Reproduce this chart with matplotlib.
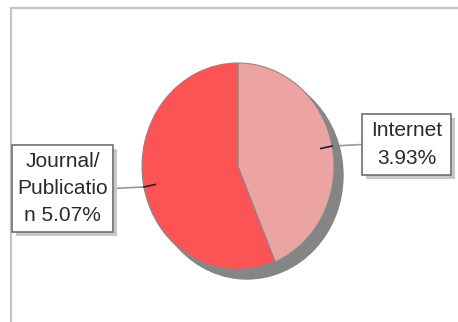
import numpy as np
import matplotlib
matplotlib.use("Agg")
import matplotlib.pyplot as plt
from matplotlib.patches import Rectangle, Ellipse

plt.rcParams['font.family'] = ['Liberation Sans', 'DejaVu Sans']

# data
sources = ["Internet", "Journal/Publication"]
shares = [3.93, 5.07]
label_texts = ["Internet\n3.93%", "Journal/\nPublicatio\nn 5.07%"]
colors = ["#eba4a2", "#fc5354"]

# label boxes in pixels: x0, y0, x1, y1
boxes = [(362, 114, 451, 175), (12, 145, 113, 232)]

W, H = 458, 322
fig = plt.figure(figsize=(W / 100, H / 100), dpi=100)

# background axes in pixel coords
bg = fig.add_axes([0, 0, 1, 1])
bg.set_xlim(0, W)
bg.set_ylim(H, 0)
bg.axis('off')

# frame (left and top edges)
bg.plot([11, 11], [8, H], color="#c4c4c4", lw=1.6)
bg.plot([11, W], [8, 8], color="#c4c4c4", lw=1.6)

# pie axes, slightly elliptical
cx, cy, rx, ry = 238, 166.5, 96, 103.5
pie_ax = fig.add_axes([(cx - rx) / W, 1 - (cy + ry) / H, 2 * rx / W, 2 * ry / H])
pie_ax.add_patch(Ellipse((9 / rx, -9 / ry), 2, 2, color="#858585", zorder=0, clip_on=False))
wedges, _ = pie_ax.pie(shares, colors=colors, startangle=90, counterclock=False,
                       wedgeprops=dict(edgecolor="#8a8a8a", linewidth=0.8))
pie_ax.set_aspect('auto')
pie_ax.set_xlim(-1, 1)
pie_ax.set_ylim(-1, 1)
pie_ax.axis('off')

for w, txt, (x0, y0, x1, y1) in zip(wedges, label_texts, boxes):
    ang = np.deg2rad((w.theta1 + w.theta2) / 2)
    px, py = np.cos(ang), np.sin(ang)
    # dark tick inside the wedge
    pie_ax.plot([0.88 * px, px], [0.88 * py, py], color="#222222", lw=1.2, zorder=6)
    edge = (cx + rx * px, cy - ry * py)
    bx = x0 if px > 0 else x1
    by = (y0 + y1) / 2
    bg.plot([edge[0], bx], [edge[1], by], color="#9a9a9a", lw=1.2, zorder=1)
    # box shadow + box
    bg.add_patch(Rectangle((x0 + 4, y0 + 4), x1 - x0, y1 - y0, facecolor="#c8c8c8",
                           edgecolor="none", zorder=2))
    bg.add_patch(Rectangle((x0, y0), x1 - x0, y1 - y0, facecolor="white",
                           edgecolor="#707070", lw=1.2, zorder=3))
    bg.text((x0 + x1) / 2, (y0 + y1) / 2, txt, ha='center', va='center',
            fontsize=15, color="#2a2a2a", linespacing=1.55, zorder=4)

bg.set_zorder(0)
pie_ax.set_zorder(1)
pie_ax.patch.set_visible(False)

fig.savefig("out.png", dpi=100)
